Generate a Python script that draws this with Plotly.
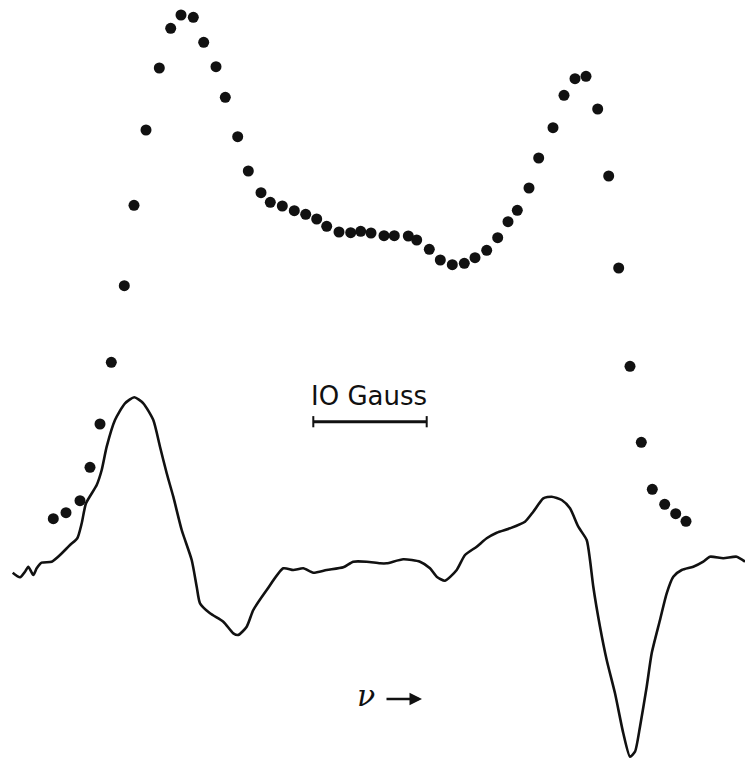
import plotly.graph_objects as go

# Absorption points (dots) (field position, signal)
dot_x = [53.3, 66, 80, 90, 100, 111.3, 124.3, 134, 146, 159.3, 170.7, 181, 193.3, 203.7, 216,
         225.3, 237.7, 248.3, 261, 270.3, 282.3, 294.3, 305.7, 316.7, 326.7, 339, 350.7, 360.7,
         371, 384, 394.3, 408.3, 416.7, 429.3, 440.3, 452.3, 464.3, 475, 486.7, 497.7, 508,
         517.3, 529, 538.7, 553, 564, 575, 586, 597.7, 608.7, 618.7, 630, 641.3, 652.3, 664.7,
         675.7, 686]
dot_y = [518.7, 512.7, 500.7, 467.3, 424, 362.3, 285.7, 205.3, 130, 68, 28.3, 15, 17.3, 42.3, 66.7,
         97.3, 136.7, 171, 192.7, 202.3, 206, 210.7, 214.3, 219, 226.3, 232, 232.7, 231.3,
         233, 235.7, 235.7, 236, 240, 249.3, 260, 264.7, 263.3, 257.7, 250.3, 237.7, 221.7,
         210.3, 188, 158, 127.7, 95.3, 78.7, 76.3, 109, 176, 268, 366.3, 442.3, 489.3, 504.3,
         513.7, 521.3]

# Derivative trace (solid line)
trace_x = [12.7, 20, 25, 28.3, 33.3, 36.7, 41.7, 51.7, 60, 70, 77.3, 81.7, 86, 96.7, 101.7, 106.7,
           115, 125, 134.3, 143.3, 153.3, 160, 166.7, 173.3, 181.7, 191.7, 196.7, 200, 210,
           223.3, 233.3, 238.3, 246.7, 253.3, 266.7, 283.3, 293.3, 303.3, 313.3, 326.7, 343.3,
           353.3, 366.7, 380, 386.7, 403.3, 420, 430, 436.7, 445, 456.7, 465, 476.7, 486.7,
           496.7, 510, 525, 533.3, 543.3, 551.7, 561.7, 570, 578.3, 586.7, 590, 593.3, 600,
           606.7, 615, 623.3, 630, 635, 640, 646.7, 651.7, 660, 666.7, 673.3, 681.7, 693.3,
           703.3, 710, 723.3, 736.7, 745]
trace_y = [572.7, 577.3, 571.7, 566.7, 575, 568.3, 562.7, 561.7, 555, 545, 538.3, 523.3, 503.3, 485,
           470, 446.7, 420, 403.3, 397.3, 403.3, 420, 446.7, 473.3, 496.7, 530, 560, 586.7,
           603.3, 613.3, 621.7, 633.3, 635, 626.7, 610, 590, 568.3, 570, 568.3, 572.7, 570,
           567.3, 561.7, 561.7, 563.3, 563.3, 559.3, 561.7, 568.3, 576.7, 580.7, 570, 555,
           546.7, 538.3, 532.7, 528.3, 521.7, 511.7, 498.3, 496.7, 500, 508.3, 526.7, 540,
           560, 586.7, 626.7, 660, 693.3, 733.3, 756.7, 751.7, 726.7, 686.7, 653.3, 620,
           593.3, 576.7, 570, 566.7, 561.7, 556.7, 558.3, 556.7, 561.7]

scale_x = [313.3, 426.7]
scale_y = [421.7, 421.7]
scale_label = "IO Gauss"
arrow_label = "ν"

ink = "#111111"
fig = go.Figure()
fig.add_trace(go.Scatter(x=trace_x, y=trace_y, mode="lines",
                         line=dict(color=ink, width=2.6, shape="spline", smoothing=0.6),
                         hoverinfo="skip"))
fig.add_trace(go.Scatter(x=dot_x, y=dot_y, mode="markers",
                         marker=dict(color=ink, size=11, line=dict(width=0)),
                         hoverinfo="skip"))
fig.add_trace(go.Scatter(x=scale_x, y=scale_y, mode="lines+markers",
                         line=dict(color=ink, width=3),
                         marker=dict(symbol="line-ns", size=8, line=dict(color=ink, width=2)),
                         hoverinfo="skip"))

fig.add_annotation(x=369, y=396, xref="x", yref="y", text=scale_label, showarrow=False,
                   font=dict(family="DejaVu Sans", size=26, color=ink))
fig.add_annotation(x=366, y=695, xref="x", yref="y", text="<i>" + arrow_label + "</i>",
                   showarrow=False, font=dict(family="DejaVu Serif", size=30, color=ink))
fig.add_annotation(x=422, y=699, ax=385, ay=699, xref="x", yref="y", axref="x", ayref="y",
                   text="", showarrow=True, arrowhead=2, arrowsize=1, arrowwidth=2.5,
                   arrowcolor=ink)

fig.update_layout(width=745, height=763, margin=dict(l=0, r=0, t=0, b=0),
                  paper_bgcolor="white", plot_bgcolor="white", showlegend=False,
                  xaxis=dict(range=[0, 745], visible=False, fixedrange=True),
                  yaxis=dict(range=[763, 0], visible=False, fixedrange=True))
fig.write_html("out.html")
